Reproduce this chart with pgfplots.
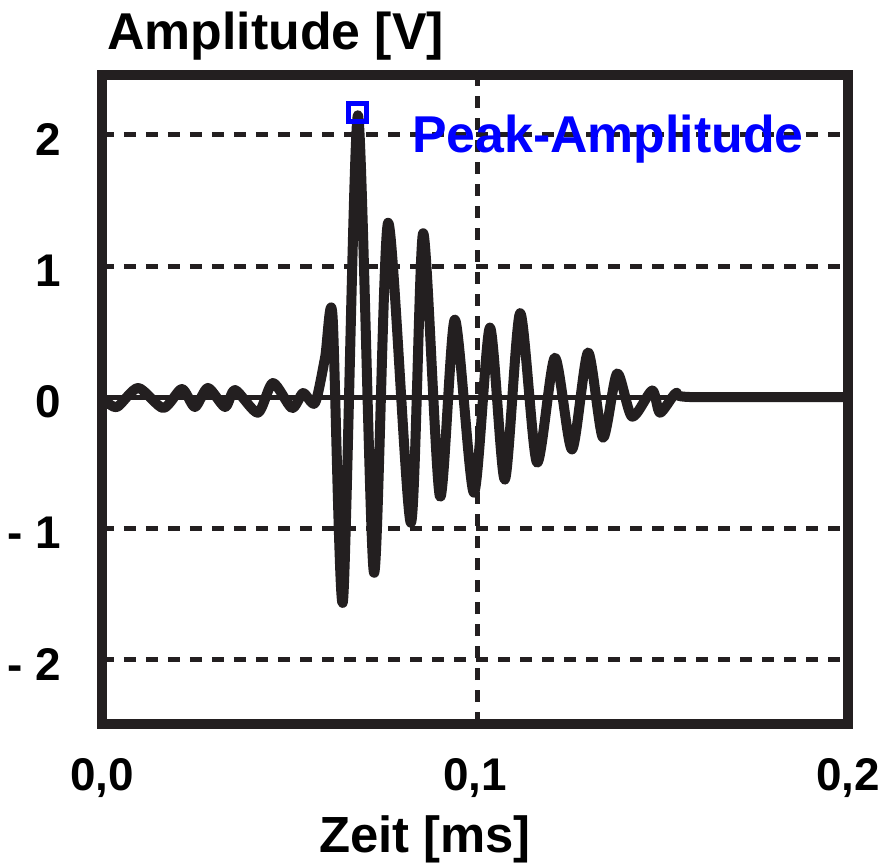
\documentclass[border=0pt]{standalone}
\usepackage{fontspec}
\setmainfont{Liberation Sans}
\usepackage{pgfplots}
\pgfplotsset{compat=1.18}
\definecolor{ink}{RGB}{35,31,32}
\begin{document}
\begin{tikzpicture}
\path[use as bounding box] (-102bp,-140bp) rectangle (781bp,724bp);
\begin{axis}[
  scale only axis, width=746bp, height=649bp,
  xmin=0, xmax=0.2, ymin=-2.496, ymax=2.458,
  axis line style={line width=10bp, draw=ink},
  xtick={0,0.1,0.2}, xticklabels={{0,0},{0,1},{0,2}},
  ytick={-2,-1,0,1,2}, yticklabels={{- 2},{- 1},0,1,2},
  major tick length=0pt,
  tick style={draw=none},
  /pgf/number format/assume math mode=true,
  ticklabel style={font=\fontsize{46}{50}\selectfont\bfseries, inner sep=0pt},
  xticklabel style={anchor=north, yshift=-34bp},
  yticklabel style={anchor=east, xshift=-41bp, yshift=-5bp},
  clip=false,
]
% grid lines
\draw[ink, line width=5bp, dash pattern=on 12bp off 10bp] (axis cs:0,2) -- (axis cs:0.2,2);
\draw[ink, line width=5bp, dash pattern=on 12bp off 10bp] (axis cs:0,1) -- (axis cs:0.2,1);
\draw[ink, line width=5bp, dash pattern=on 12bp off 10bp] (axis cs:0,-1) -- (axis cs:0.2,-1);
\draw[ink, line width=5bp, dash pattern=on 12bp off 10bp] (axis cs:0,-2) -- (axis cs:0.2,-2);
\draw[ink, line width=5bp, dash pattern=on 12bp off 10bp] (axis cs:0.1008,-2.496) -- (axis cs:0.1008,2.458);
% zero line
\addplot[ink, line width=5bp] coordinates {(0,0) (0.2,0)};
% waveform
\addplot[ink, line width=10bp, line join=round, smooth, tension=0.45] coordinates {
(0.0005,-0.02) (0.0040,-0.076) (0.0097,0.069) (0.0164,-0.084) (0.0214,0.061)
(0.0249,-0.076) (0.0284,0.069) (0.0330,-0.076) (0.0357,0.053) (0.0418,-0.12)
(0.0458,0.107) (0.0509,-0.084) (0.0539,0.03) (0.0571,-0.046) (0.0598,0.30)
(0.0618,0.62) (0.0646,-1.56) (0.0686,2.15) (0.0729,-1.34)
(0.0767,1.33) (0.0828,-0.96) (0.0861,1.25) (0.0906,-0.76) (0.0946,0.59)
(0.0997,-0.73) (0.1040,0.53) (0.1080,-0.63) (0.1121,0.64) (0.1166,-0.50)
(0.1214,0.30) (0.1260,-0.40) (0.1303,0.34) (0.1343,-0.31) (0.1381,0.18)
(0.1421,-0.15) (0.1475,0.05) (0.1496,-0.12) (0.1539,0.03) (0.1576,0)
(0.2,0)
};
% peak marker
\addplot[only marks, mark=square, mark size=9bp, color={rgb,255:red,0;green,0;blue,255}, mark options={line width=5bp}] coordinates {(0.0686,2.17)};
\node[anchor=base west, inner sep=0pt, text={rgb,255:red,0;green,0;blue,255}, font=\fontsize{52}{58}\selectfont\bfseries] at (axis cs:0.0831,1.870) {Peak-Amplitude};
\node[anchor=base west, inner sep=0pt, font=\fontsize{52}{58}\selectfont\bfseries] at (rel axis cs:0,1) [xshift=5bp, yshift=25bp] {Amplitude [V]};
\node[anchor=base, inner sep=0pt, font=\fontsize{51}{56}\selectfont\bfseries] at (rel axis cs:0.433,0) [yshift=-128bp] {Zeit [ms]};
\end{axis}
\end{tikzpicture}
\end{document}
